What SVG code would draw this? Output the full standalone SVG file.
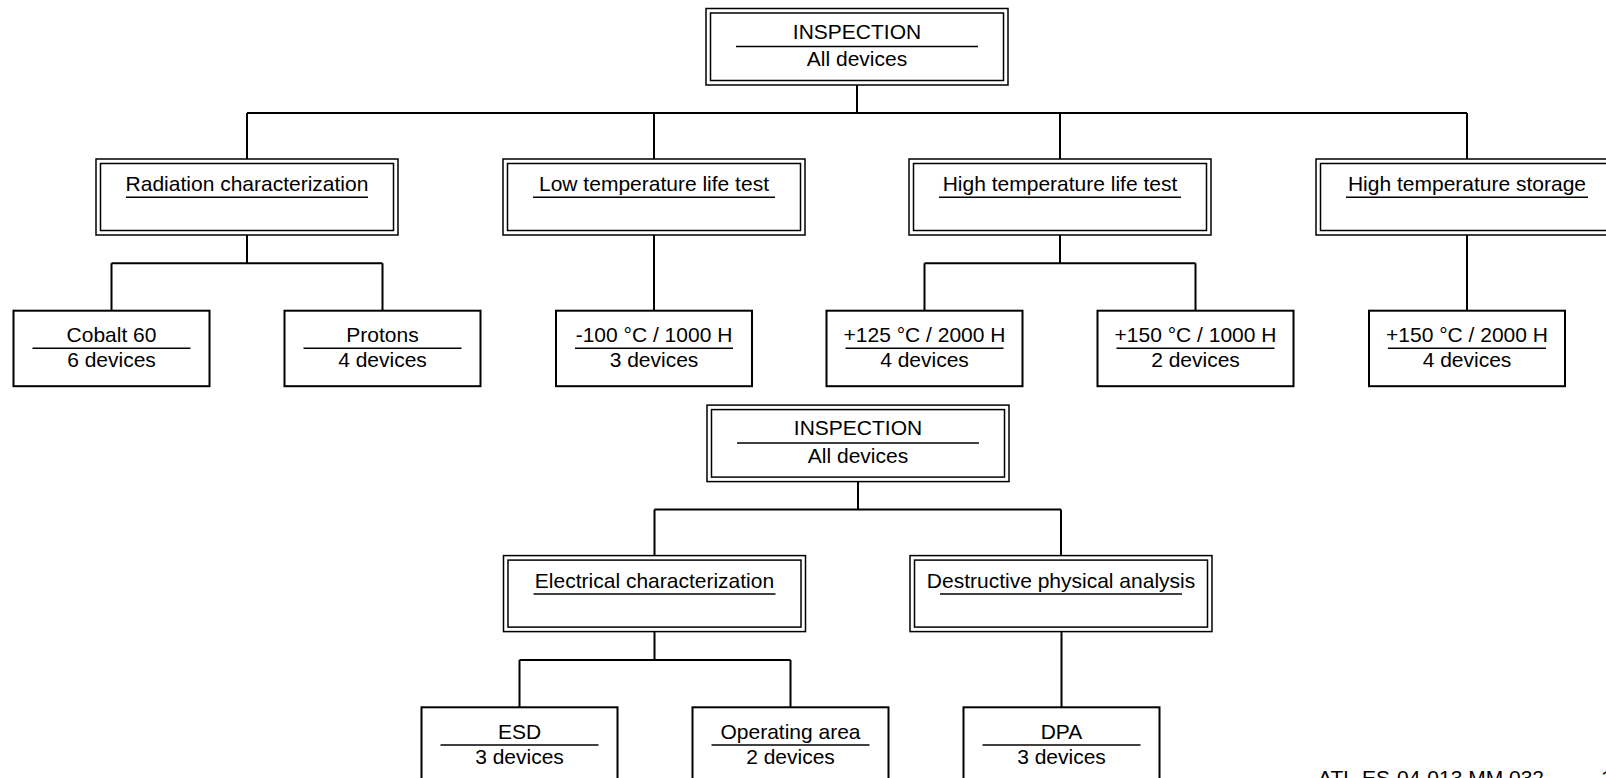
<svg xmlns="http://www.w3.org/2000/svg" width="1606" height="778" viewBox="0 0 1606 778">
<style>
text{font-family:"Liberation Sans",Arial,sans-serif;font-size:21px;fill:#000;text-anchor:middle}
.b{fill:#fff;stroke:#000;stroke-width:1.5}
.s{fill:#fff;stroke:#000;stroke-width:2}
.d{stroke:#000;stroke-width:1.5;fill:none}
.c{stroke:#000;stroke-width:2;fill:none}
</style>
<rect width="1606" height="778" fill="#fff"/>
<g id="connectors">
<path class="c" d="M857 85V113M247 113H1467M247 113V159M654 113V159M1060 113V159M1467 113V159"/>
<path class="c" d="M247 235V263.3M111.5 263.3H382.5M111.5 263.3V310.7M382.5 263.3V310.7"/>
<path class="c" d="M654 235V310.7"/>
<path class="c" d="M1060 235V263.3M924.5 263.3H1195.5M924.5 263.3V310.7M1195.5 263.3V310.7"/>
<path class="c" d="M1467 235V310.7"/>
<path class="c" d="M858 481.6V509.6M654.5 509.6H1061M654.5 509.6V555.6M1061 509.6V555.6"/>
<path class="c" d="M654.5 631.6V660M519.5 660H790.5M519.5 660V707.3M790.5 660V707.3"/>
<path class="c" d="M1061.5 631.6V707.3"/>
</g>
<g id="inspection1">
<rect class="b" x="706" y="8.5" width="302" height="76.5"/>
<rect class="b" x="710.5" y="13" width="293" height="67.5"/>
<text x="857" y="38.5">INSPECTION</text>
<path class="d" d="M736 46.5H978"/>
<text x="857" y="66">All devices</text>
</g>
<g id="radiation">
<rect class="b" x="96" y="159" width="302" height="76"/>
<rect class="b" x="100.5" y="163.5" width="293" height="67"/>
<text x="247" y="191">Radiation characterization</text>
<path class="d" d="M126 197.3H368"/>
</g>
<g id="lowtemp">
<rect class="b" x="503" y="159" width="302" height="76"/>
<rect class="b" x="507.5" y="163.5" width="293" height="67"/>
<text x="654" y="191">Low temperature life test</text>
<path class="d" d="M533 197.3H775"/>
</g>
<g id="hightemplife">
<rect class="b" x="909" y="159" width="302" height="76"/>
<rect class="b" x="913.5" y="163.5" width="293" height="67"/>
<text x="1060" y="191">High temperature life test</text>
<path class="d" d="M939 197.3H1181"/>
</g>
<g id="hightempstorage">
<rect class="b" x="1316" y="159" width="302" height="76"/>
<rect class="b" x="1320.5" y="163.5" width="293" height="67"/>
<text x="1467" y="191">High temperature storage</text>
<path class="d" d="M1346 197.3H1588"/>
</g>
<g id="cobalt">
<rect class="s" x="13.5" y="310.7" width="196" height="75.5"/>
<text x="111.5" y="342">Cobalt 60</text>
<path class="d" d="M32.5 348.3H190.5"/>
<text x="111.5" y="367">6 devices</text>
</g>
<g id="protons">
<rect class="s" x="284.5" y="310.7" width="196" height="75.5"/>
<text x="382.5" y="342">Protons</text>
<path class="d" d="M303.5 348.3H461.5"/>
<text x="382.5" y="367">4 devices</text>
</g>
<g id="minus100">
<rect class="s" x="556" y="310.7" width="196" height="75.5"/>
<text x="654" y="342">-100 °C / 1000 H</text>
<path class="d" d="M575 348.3H733"/>
<text x="654" y="367">3 devices</text>
</g>
<g id="plus125">
<rect class="s" x="826.5" y="310.7" width="196" height="75.5"/>
<text x="924.5" y="342">+125 °C / 2000 H</text>
<path class="d" d="M845.5 348.3H1003.5"/>
<text x="924.5" y="367">4 devices</text>
</g>
<g id="plus150a">
<rect class="s" x="1097.5" y="310.7" width="196" height="75.5"/>
<text x="1195.5" y="342">+150 °C / 1000 H</text>
<path class="d" d="M1116.5 348.3H1274.5"/>
<text x="1195.5" y="367">2 devices</text>
</g>
<g id="plus150b">
<rect class="s" x="1369" y="310.7" width="196" height="75.5"/>
<text x="1467" y="342">+150 °C / 2000 H</text>
<path class="d" d="M1388 348.3H1546"/>
<text x="1467" y="367">4 devices</text>
</g>
<g id="inspection2">
<rect class="b" x="707" y="405.1" width="302" height="76.5"/>
<rect class="b" x="711.5" y="409.6" width="293" height="67.5"/>
<text x="858" y="435.1">INSPECTION</text>
<path class="d" d="M737 443.1H979"/>
<text x="858" y="462.6">All devices</text>
</g>
<g id="electrical">
<rect class="b" x="503.5" y="555.6" width="302" height="76"/>
<rect class="b" x="508" y="560.1" width="293" height="67"/>
<text x="654.5" y="587.6">Electrical characterization</text>
<path class="d" d="M533.5 593.9H775.5"/>
</g>
<g id="dpa-group">
<rect class="b" x="910" y="555.6" width="302" height="76"/>
<rect class="b" x="914.5" y="560.1" width="293" height="67"/>
<text x="1061" y="587.6">Destructive physical analysis</text>
<path class="d" d="M940 593.9H1182"/>
</g>
<g id="esd">
<rect class="s" x="421.5" y="707.3" width="196" height="75.5"/>
<text x="519.5" y="738.6">ESD</text>
<path class="d" d="M440.5 744.9H598.5"/>
<text x="519.5" y="763.6">3 devices</text>
</g>
<g id="operating">
<rect class="s" x="692.5" y="707.3" width="196" height="75.5"/>
<text x="790.5" y="738.6">Operating area</text>
<path class="d" d="M711.5 744.9H869.5"/>
<text x="790.5" y="763.6">2 devices</text>
</g>
<g id="dpa">
<rect class="s" x="963.5" y="707.3" width="196" height="75.5"/>
<text x="1061.5" y="738.6">DPA</text>
<path class="d" d="M982.5 744.9H1140.5"/>
<text x="1061.5" y="763.6">3 devices</text>
</g>
<text x="1318" y="785" style="text-anchor:start">ATL-ES-04-013 MM 032</text>
<text x="1601" y="785" style="text-anchor:start">1</text>
</svg>
